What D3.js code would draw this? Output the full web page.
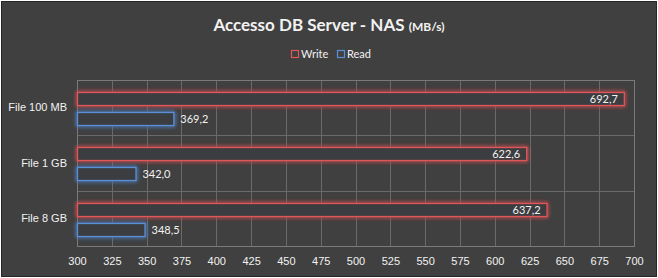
<!DOCTYPE html>
<html>
<head>
<meta charset="utf-8">
<script src="https://cdn.jsdelivr.net/npm/d3@7"></script>
<style>
  html, body { margin: 0; padding: 0; background: #fff; }
  svg { display: block; font-family: Lato, "Open Sans", sans-serif; }
</style>
</head>
<body>
<script>
  let categories = ['File 100 MB', 'File 1 GB', 'File 8 GB'];
  let seriesNames = ['Write', 'Read'];
  let writeValues = [692.7, 622.6, 637.2];
  let readValues = [369.2, 342.0, 348.5];
  let xTicks = d3.range(300, 701, 25);
  let colors = {Write: '#e0575a', Read: '#5b8fd8'};

  let WIDTH = 658, HEIGHT = 278;
  let svg = d3.select('body').append('svg')
      .attr('width', WIDTH).attr('height', HEIGHT);

  let defs = svg.append('defs');
  let glow = defs.append('filter').attr('id', 'glow')
      .attr('x', '-10%').attr('y', '-80%').attr('width', '120%').attr('height', '260%');
  glow.append('feGaussianBlur').attr('in', 'SourceGraphic').attr('stdDeviation', 2).attr('result', 'b');
  let merge = glow.append('feMerge');
  merge.append('feMergeNode').attr('in', 'b');
  merge.append('feMergeNode').attr('in', 'b');
  merge.append('feMergeNode').attr('in', 'SourceGraphic');

  // frame
  svg.append('rect').attr('x', 1.5).attr('y', 1.5)
      .attr('width', WIDTH - 3).attr('height', HEIGHT - 3)
      .attr('fill', '#404040').attr('stroke', '#262626').attr('stroke-width', 1);

  let plot = {left: 77, right: 634, top: 80, bottom: 246};

  let x = d3.scaleLinear().domain([300, 700]).range([plot.left, plot.right]);
  let y = d3.scaleBand().domain(categories).range([plot.top, plot.bottom]);
  let inner = d3.scaleBand().domain(seriesNames)
      .range([0, y.bandwidth()]).paddingInner(0.35).paddingOuter(0.56).align(0.54);

  // grid
  svg.append('g').selectAll('line').data(xTicks).join('line')
      .attr('x1', d => Math.round(x(d)) + 0.5).attr('x2', d => Math.round(x(d)) + 0.5)
      .attr('y1', plot.top).attr('y2', plot.bottom)
      .attr('stroke', '#6a6a6a').attr('stroke-width', 1);
  svg.append('g').selectAll('line').data(categories.slice(1)).join('line')
      .attr('x1', plot.left).attr('x2', plot.right)
      .attr('y1', d => Math.round(y(d)) + 0.5).attr('y2', d => Math.round(y(d)) + 0.5)
      .attr('stroke', '#6a6a6a');
  svg.append('rect').attr('x', plot.left + 0.5).attr('y', plot.top + 0.5)
      .attr('width', plot.right - plot.left).attr('height', plot.bottom - plot.top)
      .attr('fill', 'none').attr('stroke', '#7a7a7a');

  // x axis
  let xAxis = svg.append('g').attr('transform', `translate(0,${plot.bottom})`)
      .call(d3.axisBottom(x).tickValues(xTicks).tickSize(0).tickPadding(11));
  xAxis.select('.domain').remove();
  xAxis.selectAll('text').attr('fill', '#f2f2f2').style('font-size', '11px');

  // y axis
  let yAxis = svg.append('g').attr('transform', `translate(${plot.left - 10},0)`)
      .call(d3.axisLeft(y).tickSize(0).tickPadding(0));
  yAxis.select('.domain').remove();
  yAxis.selectAll('text').attr('fill', '#f2f2f2').style('font-size', '11px');

  let rows = categories.map((c, i) => ({cat: c, Write: writeValues[i], Read: readValues[i]}));
  let fmt = v => v.toFixed(1).replace('.', ',');

  seriesNames.forEach(s => {
    let g = svg.append('g');
    g.selectAll('rect').data(rows).join('rect')
        .attr('x', x(300) + 0.5)
        .attr('y', d => Math.round(y(d.cat) + inner(s)) + 0.5)
        .attr('width', d => x(d[s]) - x(300))
        .attr('height', Math.round(inner.bandwidth()))
        .attr('fill', '#3a3c3f')
        .attr('stroke', colors[s]).attr('stroke-width', 1.3)
        .attr('filter', 'url(#glow)');
    g.selectAll('text').data(rows).join('text')
        .attr('x', d => s === 'Write' ? x(d[s]) - 6 : x(d[s]) + 7)
        .attr('y', d => Math.round(y(d.cat) + inner(s)) + inner.bandwidth() / 2 + 0.5)
        .attr('dy', '0.35em')
        .attr('text-anchor', s === 'Write' ? 'end' : 'start')
        .attr('fill', '#f2f2f2').style('font-size', '11px')
        .text(d => fmt(d[s]));
  });

  // title
  let title = svg.append('text').attr('x', 329).attr('y', 31)
      .attr('text-anchor', 'middle').attr('fill', '#f2f2f2');
  title.append('tspan').style('font-size', '17px').style('font-weight', 'bold')
      .text('Accesso DB Server - NAS ');
  title.append('tspan').style('font-size', '12px').style('font-weight', 'bold').text('(MB/s)');

  // legend
  let legend = svg.append('g').attr('transform', 'translate(291,54)');
  seriesNames.forEach((s, i) => {
    let item = legend.append('g').attr('transform', `translate(${i * 46},0)`);
    item.append('rect').attr('x', 0.5).attr('y', -3.5).attr('width', 7).attr('height', 7)
        .attr('fill', '#404040').style('stroke', colors[s]).style('stroke-width', 1.2);
    item.append('text').attr('x', 10).attr('y', 0).attr('dy', '0.35em')
        .attr('fill', '#f2f2f2').style('font-size', '11px').text(s);
  });
</script>
</body>
</html>
